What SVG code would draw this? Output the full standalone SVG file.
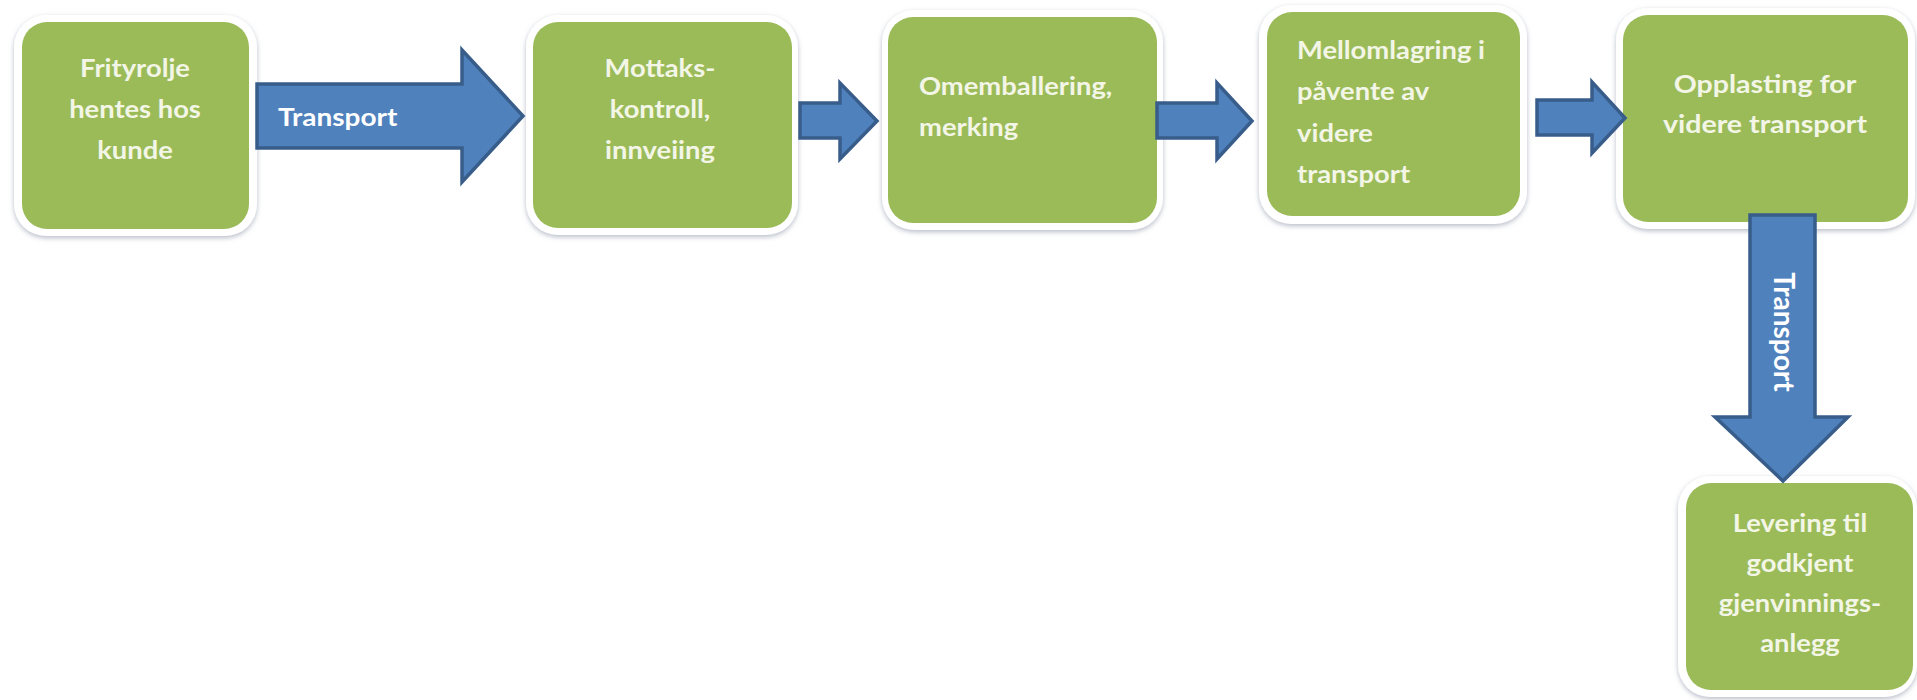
<svg xmlns="http://www.w3.org/2000/svg" width="1917" height="700" viewBox="0 0 1917 700">
  <defs>
    <filter id="shadow" x="-10%" y="-10%" width="120%" height="125%">
      <feDropShadow dx="0" dy="2" stdDeviation="2.5" flood-color="#7d879c" flood-opacity="0.55"/>
    </filter>
  </defs>
  <style>
    .frame { fill: #ffffff; filter: url(#shadow); }
    .box { fill: #9bbb59; }
    .lbl { font-family: Lato, "Liberation Sans", sans-serif; font-weight: 700; font-size: 24px; fill: #f3f6e6; }
    .c { text-anchor: middle; }
    .arrow { fill: #4f81bd; stroke: #385d8a; stroke-width: 3.5; stroke-linejoin: miter; }
    .atxt { font-family: Lato, "Liberation Sans", sans-serif; font-weight: 700; font-size: 25px; fill: #ffffff; }
  </style>
  <rect width="1917" height="700" fill="#ffffff"/>

  <!-- process steps; labels are widened slightly to suit the box proportions -->
  <g id="step-pickup">
    <rect class="frame" x="14" y="15" width="243" height="221" rx="32"/>
    <rect class="box" x="22" y="22" width="227" height="207" rx="25"/>
    <g transform="translate(135,0) scale(1.14,1)">
      <text class="lbl c" x="0" y="77">Frityrolje</text>
      <text class="lbl c" x="0" y="118">hentes hos</text>
      <text class="lbl c" x="0" y="159">kunde</text>
    </g>
  </g>
  <g id="step-receive">
    <rect class="frame" x="526" y="15" width="272" height="220" rx="32"/>
    <rect class="box" x="533" y="22" width="259" height="206" rx="25"/>
    <g transform="translate(660,0) scale(1.14,1)">
      <text class="lbl c" x="0" y="77">Mottaks-</text>
      <text class="lbl c" x="0" y="118">kontroll,</text>
      <text class="lbl c" x="0" y="159">innveiing</text>
    </g>
  </g>
  <g id="step-repack">
    <rect class="frame" x="882" y="10" width="281" height="220" rx="32"/>
    <rect class="box" x="888" y="17" width="269" height="206" rx="25"/>
    <g transform="translate(919,0) scale(1.14,1)">
      <text class="lbl" x="0" y="95">Omemballering,</text>
      <text class="lbl" x="0" y="136">merking</text>
    </g>
  </g>
  <g id="step-storage">
    <rect class="frame" x="1259" y="5" width="268" height="219" rx="32"/>
    <rect class="box" x="1267" y="12" width="253" height="204" rx="25"/>
    <g transform="translate(1297,0) scale(1.14,1)">
      <text class="lbl" x="0" y="59">Mellomlagring i</text>
      <text class="lbl" x="0" y="100">påvente av</text>
      <text class="lbl" x="0" y="142">videre</text>
      <text class="lbl" x="0" y="183">transport</text>
    </g>
  </g>
  <g id="step-loading">
    <rect class="frame" x="1616" y="8" width="299" height="221" rx="32"/>
    <rect class="box" x="1623" y="15" width="285" height="207" rx="25"/>
    <g transform="translate(1765,0) scale(1.19,1)">
      <text class="lbl c" x="0" y="93">Opplasting for</text>
      <text class="lbl c" x="0" y="133">videre transport</text>
    </g>
  </g>
  <g id="step-delivery">
    <rect class="frame" x="1678" y="476" width="239" height="221" rx="32"/>
    <rect class="box" x="1686" y="483" width="227" height="207" rx="25"/>
    <g transform="translate(1800,0) scale(1.14,1)">
      <text class="lbl c" x="0" y="532">Levering til</text>
      <text class="lbl c" x="0" y="572">godkjent</text>
      <text class="lbl c" x="0" y="612">gjenvinnings-</text>
      <text class="lbl c" x="0" y="652">anlegg</text>
    </g>
  </g>

  <!-- block arrows between steps -->
  <g id="connectors">
    <path class="arrow" d="M257,84 H462 V50 L523,116 L462,182 V148 H257 Z"/>
    <text class="atxt" transform="translate(278,0) scale(1.12,1)" x="0" y="126">Transport</text>
    <path class="arrow" d="M800,103 H840 V83 L877,121 L840,159 V138 H800 Z"/>
    <path class="arrow" d="M1157,103 H1217 V83 L1252,121 L1217,159 V138 H1157 Z"/>
    <path class="arrow" d="M1537,100 H1592 V82 L1625,118 L1592,153 V135 H1537 Z"/>
    <path class="arrow" d="M1750,215 V417 H1715 L1783,481 L1848,417 H1815 V215 Z"/>
    <text class="atxt c" transform="translate(1783,332) rotate(90)" x="0" y="9" style="font-size:28px">Transport</text>
  </g>
</svg>
